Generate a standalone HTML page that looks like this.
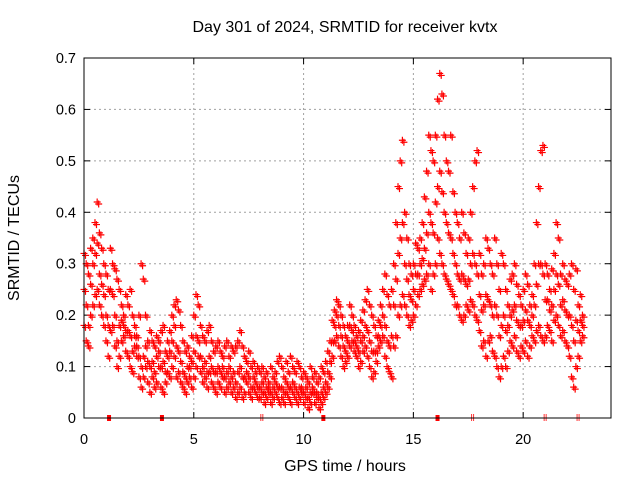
<!DOCTYPE html>
<html><head><meta charset="utf-8"><style>
body{margin:0;background:#fff}
svg{display:block;font-family:"Liberation Sans",sans-serif}
</style></head><body>
<svg id="chart" width="640" height="480">
<text x="345" y="32" font-size="16" text-anchor="middle">Day 301 of 2024, SRMTID for receiver kvtx</text>
<text x="0" y="0" font-size="16" text-anchor="middle" transform="translate(19,238) rotate(-90)">SRMTID / TECUs</text>
<text x="345" y="471" font-size="16" text-anchor="middle">GPS time / hours</text>
<g id="grid"></g>
<g id="axes"></g>
<g id="marks"></g>
<rect x="84" y="58" width="527" height="360" fill="none" stroke="#000" stroke-width="1"/>
</svg>
<script>
const xTicks=[0,5,10,15,20];
const yTicks=[0,0.1,0.2,0.3,0.4,0.5,0.6,0.7];
const yTickLabels=["0","0.1","0.2","0.3","0.4","0.5","0.6","0.7"];
const step=0.1;
const upper=[.32,.30,.28,.33,.35,.38,.42,.36,.33,.30,
.28,.25,.33,.30,.29,.27,.25,.22,.20,.24,
.22,.25,.20,.18,.16,.20,.30,.27,.20,.15,
.17,.15,.14,.16,.15,.17,.18,.13,.15,.17,
.20,.22,.23,.21,.18,.15,.13,.14,.12,.16,
.20,.24,.22,.18,.16,.15,.17,.18,.15,.13,
.14,.15,.13,.12,.14,.15,.12,.14,.13,.14,
.15,.17,.14,.12,.11,.13,.10,.11,.09,.10,
.09,.10,.08,.09,.07,.10,.08,.09,.11,.12,
.10,.08,.11,.09,.12,.10,.09,.11,.10,.08,
.09,.08,.07,.10,.08,.09,.07,.08,.10,.09,
.11,.13,.15,.19,.21,.23,.22,.20,.18,.16,
.18,.22,.20,.18,.16,.17,.19,.21,.23,.25,
.22,.20,.18,.16,.19,.22,.25,.28,.24,.22,
.25,.30,.38,.45,.50,.54,.40,.35,.30,.28,
.30,.34,.33,.35,.38,.43,.48,.55,.52,.50,
.55,.62,.67,.63,.55,.50,.48,.55,.44,.40,
.38,.35,.40,.36,.32,.35,.40,.45,.50,.52,
.32,.28,.30,.35,.33,.30,.28,.35,.30,.25,
.32,.30,.25,.22,.27,.28,.30,.26,.24,.22,
.25,.28,.26,.22,.24,.30,.38,.45,.52,.53,
.30,.28,.25,.29,.32,.38,.35,.28,.30,.27,
.26,.28,.30,.25,.29,.22,.24,.20];
const middle=[.25,.22,.18,.26,.30,.32,.34,.28,.26,.24,
.20,.18,.25,.24,.20,.15,.18,.19,.18,.17,
.17,.16,.13,.16,.14,.12,.10,.12,.14,.11,
.10,.11,.09,.12,.13,.10,.11,.09,.12,.13,
.15,.18,.14,.13,.11,.09,.08,.10,.10,.11,
.13,.16,.15,.12,.10,.11,.09,.12,.10,.09,
.09,.10,.09,.10,.08,.09,.10,.08,.09,.07,
.09,.10,.08,.08,.09,.08,.06,.08,.07,.06,
.06,.07,.05,.06,.06,.05,.06,.07,.06,.06,
.06,.05,.07,.06,.06,.07,.06,.05,.06,.06,
.05,.06,.04,.05,.06,.05,.05,.04,.05,.06,
.07,.09,.11,.15,.18,.20,.18,.16,.14,.13,
.15,.18,.17,.15,.14,.13,.15,.16,.18,.17,
.15,.13,.13,.13,.16,.18,.20,.18,.15,.14,
.16,.22,.27,.32,.35,.38,.30,.27,.24,.23,
.25,.28,.28,.30,.31,.33,.36,.40,.38,.36,
.42,.45,.48,.44,.40,.38,.36,.35,.32,.30,
.28,.27,.28,.27,.26,.27,.30,.32,.30,.28,
.24,.21,.22,.24,.23,.22,.20,.22,.20,.16,
.18,.20,.17,.18,.20,.21,.22,.19,.18,.18,
.19,.21,.19,.18,.20,.22,.26,.30,.30,.28,
.23,.23,.21,.22,.25,.28,.26,.22,.23,.21,
.20,.20,.18,.15,.19,.17,.19,.18];
const lower=[.18,.15,.14,.20,.22,.24,.25,.22,.20,.18,
.15,.12,.17,.18,.14,.10,.12,.15,.16,.13,
.12,.10,.09,.14,.12,.08,.06,.08,.10,.07,
.05,.08,.06,.07,.10,.06,.05,.07,.09,.08,
.10,.12,.08,.09,.07,.06,.05,.07,.08,.06,
.08,.10,.12,.09,.07,.08,.06,.09,.07,.06,
.05,.07,.06,.08,.05,.06,.07,.05,.06,.04,
.05,.06,.04,.05,.07,.05,.04,.06,.05,.04,
.04,.05,.03,.04,.05,.03,.04,.05,.04,.03,
.04,.03,.05,.04,.03,.05,.04,.03,.04,.05,
.03,.04,.02,.03,.05,.03,.04,.02,.03,.04,
.05,.06,.08,.12,.15,.16,.14,.12,.10,.11,
.12,.14,.15,.13,.12,.10,.11,.13,.14,.12,
.10,.08,.09,.11,.14,.15,.16,.12,.10,.09,
.08,.14,.16,.20,.22,.24,.22,.20,.18,.19,
.20,.22,.24,.25,.26,.27,.28,.30,.25,.28,
.30,.35,.32,.30,.28,.27,.26,.25,.24,.22,
.22,.20,.19,.20,.22,.21,.23,.22,.20,.19,
.17,.14,.15,.12,.15,.16,.13,.12,.10,.08,
.10,.12,.10,.13,.15,.14,.16,.13,.12,.14,
.13,.15,.12,.14,.16,.15,.17,.18,.16,.15,
.16,.18,.17,.15,.19,.20,.18,.16,.17,.15,
.14,.12,.08,.06,.10,.12,.15,.16];
const gapSquares=[1.14,3.55,10.9,16.1];
const gapTicks=[8.1,17.7,21.0,22.5];
const NS="http://www.w3.org/2000/svg";
const X=v=>84+v*(527/24);
const Y=v=>418-v*(360/0.7);
function mk(tag,attrs,parent){const e=document.createElementNS(NS,tag);for(const k in attrs)e.setAttribute(k,attrs[k]);parent.appendChild(e);return e;}
const grid=document.getElementById('grid'),axes=document.getElementById('axes'),marks=document.getElementById('marks');
xTicks.forEach(t=>{const x=X(t);
 if(t>0){const g=mk('line',{x1:x,x2:x,y1:58,y2:418,stroke:'#a0a0a0','stroke-dasharray':'2,3'},grid);
 
 }
 mk('line',{x1:x,x2:x,y1:418,y2:412,stroke:'#000'},axes);
 mk('line',{x1:x,x2:x,y1:58,y2:64,stroke:'#000'},axes);
 const l=mk('text',{x:x,y:444,'font-size':14.5,'text-anchor':'middle'},axes);l.textContent=String(t);
 
 });
yTicks.forEach((t,i)=>{const y=Y(t);
 if(i>0&&i<yTicks.length-1){const g=mk('line',{x1:84,x2:611,y1:y,y2:y,stroke:'#a0a0a0','stroke-dasharray':'2,3'},grid);
 
 }
 mk('line',{x1:84,x2:90,y1:y,y2:y,stroke:'#000'},axes);
 mk('line',{x1:611,x2:605,y1:y,y2:y,stroke:'#000'},axes);
 const l=mk('text',{x:76,y:y+5,'font-size':14.5,'text-anchor':'end'},axes);l.textContent=yTickLabels[i];
 
 });
function plus(x,y){return `M${x-3.5},${y}h7M${x},${y-3.5}v7`;}
let d='';
[upper,middle,lower].forEach(arr=>arr.forEach((v,i)=>{
  d+=plus(X(i*step),Y(v));
  d+=plus(X(i*step)+1.5,Y(v)+2);
}));
const p=mk('path',{d:d,stroke:'#ff0000','stroke-width':1.2,fill:'none'},marks);


gapSquares.forEach(h=>{const r=mk('rect',{x:X(h)-2,y:415,width:4,height:6,fill:'#ff0000'},marks);
 
 });
gapTicks.forEach(h=>{const g=mk('path',{d:`M${X(h)-1},414v7M${X(h)+1},414v7`,stroke:'#ff0000','stroke-width':0.8},marks);
 
 });
</script>
</body></html>
